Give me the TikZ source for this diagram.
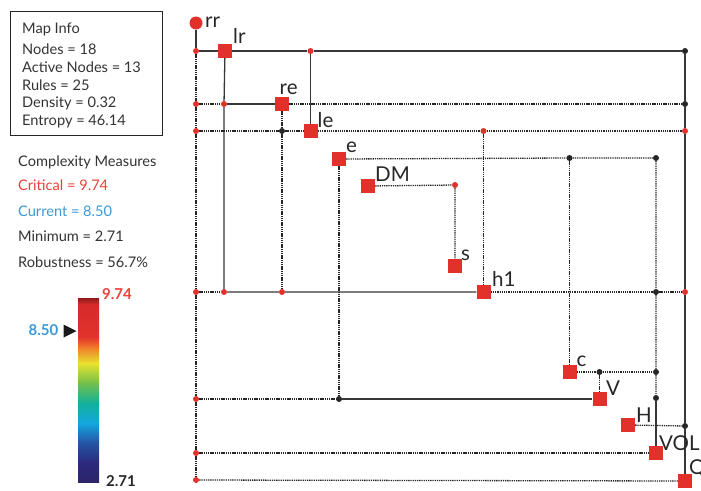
\documentclass[tikz,border=0pt]{standalone}
\usepackage{fontspec}
\setmainfont{Lato}
\definecolor{mapred}{HTML}{E2312B}
\definecolor{critred}{HTML}{E8413B}
\definecolor{curblue}{HTML}{3A9AD9}
\definecolor{barA}{HTML}{8E1B1B}
\definecolor{barB}{HTML}{D42A2A}
\definecolor{barC}{HTML}{E3342C}
\definecolor{barD}{HTML}{F07A2A}
\definecolor{barE}{HTML}{E9E22E}
\definecolor{barF}{HTML}{72C04C}
\definecolor{barG}{HTML}{12B09C}
\definecolor{barH}{HTML}{14A6E0}
\definecolor{barI}{HTML}{2456A6}
\definecolor{barJ}{HTML}{2B2A7E}
\definecolor{barK}{HTML}{2D2468}
\tikzset{
  cell/.style   = {rectangle, fill=mapred, minimum size=14pt, inner sep=0pt},
  bigdot/.style = {circle, fill=mapred, minimum size=13pt, inner sep=0pt},
  joint/.style  = {circle, fill=mapred, minimum size=6pt, inner sep=0pt},
  hub/.style    = {circle, fill=black!85, minimum size=6pt, inner sep=0pt},
  link/.style   = {draw=black!78, line width=1.3pt},
  trace/.style  = {draw=black!85, line width=1.3pt, dash pattern=on 1.3pt off 0.9pt},
  tag/.style    = {font=\fontsize{20.5}{20.5}\selectfont, text=black!85,
                   anchor=base west, inner sep=0pt},
  info/.style   = {font=\fontsize{14.6}{14.6}\selectfont, text=black!80,
                   anchor=base west, inner sep=0pt},
  scaletxt/.style = {font=\fontsize{15}{15}\selectfont\bfseries, inner sep=0pt}
}
\begin{document}
\begin{tikzpicture}[x=1pt, y=-1pt]
  \useasboundingbox (0,0) rectangle (701,490);

  \node[draw=black!85, line width=1pt, minimum width=152pt, minimum height=124pt,
        anchor=north west, inner sep=0pt] (mapbox) at (10,11) {};
  \node[info] (title)   at (22,33)    {Map Info};
  \node[info] (nodes)   at (22,54.5)  {Nodes = 18};
  \node[info] (active)  at (22,72.5)  {Active Nodes = 13};
  \node[info] (rules)   at (22,90)    {Rules = 25};
  \node[info] (density) at (22,107.5) {Density = 0.32};
  \node[info] (entropy) at (22,125)   {Entropy = 46.14};

  \node[info] (cmhead) at (18,166)   {Complexity Measures};
  \node[info, text=critred] (crit) at (18,190) {Critical = 9.74};
  \node[info, text=curblue] (curr) at (18,216) {Current = 8.50};
  \node[info] (mini)   at (18,241.5) {Minimum = 2.71};
  \node[info] (robu)   at (18,267.5) {Robustness = 56.7\%};

  \foreach \ya/\yb/\ca/\cb in {298/304.5/barA/barB, 304/337.5/barB/barC,
      337/347.5/barC/barD, 347/363.5/barD/barE, 363/383.5/barE/barF,
      383/403.5/barF/barG, 403/423.5/barG/barH, 423/442.5/barH/barI,
      442/462.5/barI/barJ, 462/482/barJ/barK}
    \shade[top color=\ca, bottom color=\cb] (78,\ya) rectangle (99,\yb);
  \node[scaletxt, text=critred, anchor=base west] (hi) at (102,299) {9.74};
  \node[scaletxt, text=black!85, anchor=base west] (lo) at (106,486.5) {2.71};
  \node[scaletxt, text=curblue, anchor=base east] (cur) at (58.5,335.5) {8.50};
  \fill[black!90] (63.5,324.5) -- (76.5,331) -- (63.5,337.5) -- cycle;

  \node[bigdot] (rr) at (196,23) {};
  \node[cell] (lr)  at (225,51)    {};
  \node[cell] (re)  at (282,104)   {};
  \node[cell] (le)  at (310.5,131) {};
  \node[cell] (e)   at (339,159)   {};
  \node[cell] (DM)  at (368,186)   {};
  \node[cell] (s)   at (455,266)   {};
  \node[cell] (h1)  at (483.5,292) {};
  \node[cell] (c)   at (569.5,372) {};
  \node[cell] (V)   at (599.5,399) {};
  \node[cell] (H)   at (628,425)   {};
  \node[cell] (VOL) at (656,453)   {};
  \node[cell] (Q)   at (685,481)   {};

  \node[joint] (s1) at (196,51)  {};
  \node[joint] (s2) at (196,104) {};
  \node[joint] (s3) at (196,131) {};
  \node[joint] (s4) at (196,292) {};
  \node[joint] (s5) at (196,399) {};
  \node[joint] (s6) at (196,453) {};
  \node[joint] (s7) at (196,480) {};
  \node[joint] (m1) at (310.5,51)  {};
  \node[joint] (m2) at (224,104)   {};
  \node[joint] (m3) at (483.5,131) {};
  \node[joint] (m4) at (455,185)   {};
  \node[joint] (m5) at (224,292)   {};
  \node[joint] (m6) at (282,292)   {};
  \node[joint] (m7) at (685,131)   {};
  \node[joint] (m8) at (685,292)   {};

  \node[hub] (b1)  at (685,51)    {};
  \node[hub] (b2)  at (685,104)   {};
  \node[hub] (b3)  at (282,131)   {};
  \node[hub] (b4)  at (569.5,158) {};
  \node[hub] (b5)  at (656,158)   {};
  \node[hub] (b6)  at (656,292)   {};
  \node[hub] (b7)  at (599.5,372) {};
  \node[hub] (b8)  at (656,372)   {};
  \node[hub] (b9)  at (339,399)   {};
  \node[hub] (b10) at (656,398)   {};
  \node[hub] (b11) at (685,426)   {};

  \draw[link] (rr) -- (s1) -- (lr) -- (m1) -- (b1) -- (b2) -- (m7) -- (m8) -- (b11) -- (Q);
  \draw[link] (m1) -- (le);
  \draw[link] (lr) -- (m2) -- (m5) -- (m6) -- (h1);
  \draw[link] (m2) -- (re);
  \draw[link] (b9) -- (V);
  \draw[link] (b10) -- (VOL);

  \draw[trace] (s1) -- (s2) -- (s3) -- (s4) -- (s5) -- (s6) -- (s7);
  \draw[trace] (s2) -- (m2);
  \draw[trace] (re) -- (b2);
  \draw[trace] (s3) -- (b3) -- (le) -- (m3) -- (m7);
  \draw[trace] (re) -- (b3) -- (m6);
  \draw[trace] (e) -- (b4) -- (b5) -- (b6) -- (b8) -- (b10);
  \draw[trace] (e) -- (b9);
  \draw[trace] (DM) -- (m4) -- (s);
  \draw[trace] (m3) -- (h1);
  \draw[trace] (s4) -- (m5);
  \draw[trace] (h1) -- (b6) -- (m8);
  \draw[trace] (b4) -- (c) -- (b7) -- (b8);
  \draw[trace] (b7) -- (V);
  \draw[trace] (s5) -- (b9);
  \draw[trace] (H) -- (b11);
  \draw[trace] (s6) -- (VOL);
  \draw[trace] (s7) -- (Q);

  \node[tag] (rrtag)  at (205,27)      {rr};
  \node[tag] (lrtag)  at (233,43)      {lr};
  \node[tag] (retag)  at (279.5,94.5)  {re};
  \node[tag] (letag)  at (317.5,127.5) {le};
  \node[tag] (etag)   at (346,152.5)   {e};
  \node[tag] (DMtag)  at (375,181.5)   {DM};
  \node[tag] (stag)   at (461,260)     {s};
  \node[tag] (h1tag)  at (492,286.5)   {h1};
  \node[tag] (ctag)   at (576.5,366.5) {c};
  \node[tag] (Vtag)   at (606,395)     {V};
  \node[tag] (Htag)   at (636,422.5)   {H};
  \node[tag] (VOLtag) at (659,450.5)   {VOL};
  \node[tag] (Qtag)   at (689,474)     {Q};
\end{tikzpicture}
\end{document}
